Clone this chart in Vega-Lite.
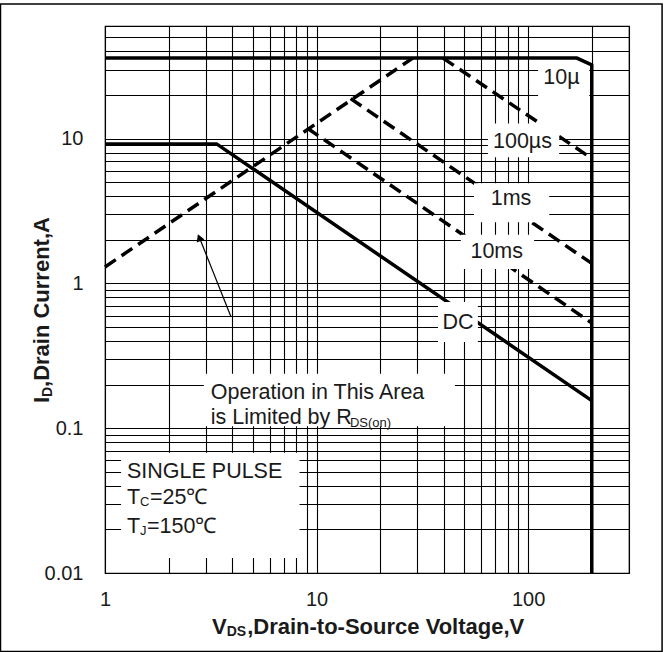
{
  "$schema": "https://vega.github.io/schema/vega-lite/v6.json",
  "width": 524,
  "height": 547,
  "autosize": "none",
  "padding": {"left": 105, "top": 26, "right": 35, "bottom": 79},
  "background": "white",
  "config": {
    "view": {"stroke": "#000", "strokeWidth": 1.2},
    "font": "Liberation Sans"
  },
  "datasets": {
    "curves": [
      {"series": "limit", "o": 1, "x": 1, "y": 36},
      {"series": "limit", "o": 2, "x": 170, "y": 36},
      {"series": "limit", "o": 3, "x": 200, "y": 32.3},
      {"series": "limit", "o": 4, "x": 200, "y": 0.01},
      {"series": "dc", "o": 1, "x": 1, "y": 9.2},
      {"series": "dc", "o": 2, "x": 3.37, "y": 9.2},
      {"series": "dc", "o": 3, "x": 200, "y": 0.155},
      {"series": "rds", "o": 1, "x": 1, "y": 1.3},
      {"series": "rds", "o": 2, "x": 28.5, "y": 36},
      {"series": "us10", "o": 1, "x": 39.6, "y": 36},
      {"series": "us10", "o": 2, "x": 200, "y": 7.3},
      {"series": "us100", "o": 1, "x": 14.5, "y": 18.9},
      {"series": "us100", "o": 2, "x": 200, "y": 1.375},
      {"series": "ms1", "o": 1, "x": 9.06, "y": 11.8},
      {"series": "ms1", "o": 2, "x": 200, "y": 0.533}
    ],
    "boxes": [
      {"name": "10u", "x": 111.5, "x2": 194.6, "y": 33.0, "y2": 12.75},
      {"name": "100us", "x": 64.6, "x2": 140.3, "y": 12.75, "y2": 7.43},
      {"name": "1ms", "x": 55.5, "x2": 125.8, "y": 4.93, "y2": 2.65},
      {"name": "10ms", "x": 48.1, "x2": 106.8, "y": 2.173, "y2": 1.257},
      {"name": "DC", "x": 37.5, "x2": 57.9, "y": 0.744, "y2": 0.3946},
      {"name": "op", "x": 2.933, "x2": 45.1, "y": 0.2375, "y2": 0.1032},
      {"name": "sp", "x": 1.191, "x2": 8.31, "y": 0.0678, "y2": 0.01269}
    ],
    "labels": [
      {"t": "10µ", "x": 143.9, "y": 26.1},
      {"t": "100µs", "x": 94.1, "y": 9.53},
      {"t": "1ms", "x": 83.1, "y": 3.81},
      {"t": "10ms", "x": 71.1, "y": 1.657},
      {"t": "DC", "x": 46.6, "y": 0.5305}
    ],
    "notes": [
      {"t": "Operation in This Area", "x": 3.163, "y": 0.1759},
      {"t": "is Limited by R", "x": 3.163, "y": 0.1177},
      {"t": "SINGLE PULSE", "x": 1.27, "y": 0.0501},
      {"t": "T", "x": 1.27, "y": 0.0328},
      {"t": "=25℃", "x": 1.632, "y": 0.0328},
      {"t": "T", "x": 1.27, "y": 0.0207},
      {"t": "=150℃", "x": 1.579, "y": 0.0207}
    ],
    "subs": [
      {"t": "DS(on)", "x": 14.39, "y": 0.1087},
      {"t": "C", "x": 1.464, "y": 0.0307},
      {"t": "J", "x": 1.464, "y": 0.01935}
    ],
    "xtitle": [
      {"t": "V", "x": 3.205, "y": 0.004258, "s": 22},
      {"t": "DS", "x": 3.76, "y": 0.003914, "s": 14},
      {"t": ",Drain-to-Source Voltage,V", "x": 4.7, "y": 0.004258, "s": 22}
    ],
    "ytitle": [
      {"t": "I", "x": 0.5059, "y": 0.1494, "s": 22},
      {"t": "D", "x": 0.5376, "y": 0.1643, "s": 14},
      {"t": ",Drain Current,A", "x": 0.5059, "y": 0.1927, "s": 22}
    ],
    "arrow": [
      {"x": 3.94, "y": 0.589, "x2": 2.812, "y2": 2.028}
    ],
    "head": [
      {"x": 2.79, "y": 2.07}
    ],
    "frame": [
      {"x": 0.3206, "x2": 430, "y": 85.2, "y2": 0.00287}
    ]
  },
  "encoding": {
    "x": {
      "field": "x",
      "type": "quantitative",
      "scale": {"type": "log", "domain": [1, 300], "nice": false},
      "axis": {
        "title": null,
        "values": [1, 2, 3, 4, 5, 6, 7, 8, 9, 10, 20, 30, 40, 50, 60, 70, 80, 90, 100, 200, 300],
        "labelExpr": "datum.value == 1 || datum.value == 10 || datum.value == 100 ? '' + datum.value : ''",
        "labelOverlap": false,
        "labelFlush": false,
        "labelFont": "Liberation Sans",
        "labelFontSize": 20,
        "labelColor": "#1a1a1a",
        "labelPadding": 16,
        "ticks": false,
        "domain": false,
        "grid": true,
        "gridColor": "#000",
        "gridOpacity": 1,
        "gridWidth": 1.1
      }
    },
    "y": {
      "field": "y",
      "type": "quantitative",
      "scale": {"type": "log", "domain": [0.01, 60], "nice": false},
      "axis": {
        "title": null,
        "values": [0.01, 0.02, 0.03, 0.04, 0.05, 0.06, 0.07, 0.08, 0.09, 0.1, 0.2, 0.3, 0.4, 0.5, 0.6, 0.7, 0.8, 0.9, 1, 2, 3, 4, 5, 6, 7, 8, 9, 10, 20, 30, 40, 50],
        "labelExpr": "datum.value == 0.01 || datum.value == 0.1 || datum.value == 1 || datum.value == 10 ? '' + datum.value : ''",
        "labelOverlap": false,
        "labelFlush": false,
        "labelFont": "Liberation Sans",
        "labelFontSize": 20,
        "labelColor": "#1a1a1a",
        "labelPadding": 22,
        "ticks": false,
        "domain": false,
        "grid": true,
        "gridColor": "#000",
        "gridOpacity": 1,
        "gridWidth": 1.1
      }
    }
  },
  "layer": [
    {
      "data": {"name": "frame"},
      "mark": {"type": "rect", "filled": false, "stroke": "#000", "strokeWidth": 1.5, "clip": false},
      "encoding": {"x2": {"field": "x2"}, "y2": {"field": "y2"}}
    },
    {
      "data": {"name": "curves"},
      "transform": [{"filter": "datum.series != 'limit' && datum.series != 'dc'"}],
      "mark": {"type": "line", "color": "#000", "strokeWidth": 3.5, "strokeDash": [13, 7], "strokeCap": "butt"},
      "encoding": {"detail": {"field": "series"}, "order": {"field": "o", "type": "quantitative"}}
    },
    {
      "data": {"name": "curves"},
      "transform": [{"filter": "datum.series == 'dc'"}],
      "mark": {"type": "line", "color": "#000", "strokeWidth": 3.5},
      "encoding": {"detail": {"field": "series"}, "order": {"field": "o", "type": "quantitative"}}
    },
    {
      "data": {"name": "boxes"},
      "mark": {"type": "rect", "fill": "white", "stroke": null},
      "encoding": {"x2": {"field": "x2"}, "y2": {"field": "y2"}}
    },
    {
      "data": {"name": "curves"},
      "transform": [{"filter": "datum.series == 'limit'"}],
      "mark": {"type": "line", "color": "#000", "strokeWidth": 3.5},
      "encoding": {"detail": {"field": "series"}, "order": {"field": "o", "type": "quantitative"}}
    },
    {
      "data": {"name": "arrow"},
      "mark": {"type": "rule", "color": "#000", "strokeWidth": 1.2},
      "encoding": {"x2": {"field": "x2"}, "y2": {"field": "y2"}}
    },
    {
      "data": {"name": "head"},
      "mark": {"type": "point", "shape": "triangle-up", "filled": true, "color": "#000", "size": 70, "angle": -22, "opacity": 1}
    },
    {
      "data": {"name": "labels"},
      "mark": {"type": "text", "font": "Liberation Sans", "fontSize": 21.5, "color": "#1a1a1a", "align": "center", "baseline": "middle"},
      "encoding": {"text": {"field": "t"}}
    },
    {
      "data": {"name": "notes"},
      "mark": {"type": "text", "font": "Liberation Sans", "fontSize": 21.5, "color": "#1a1a1a", "align": "left", "baseline": "middle"},
      "encoding": {"text": {"field": "t"}}
    },
    {
      "data": {"name": "subs"},
      "mark": {"type": "text", "font": "Liberation Sans", "fontSize": 13, "color": "#1a1a1a", "align": "left", "baseline": "middle"},
      "encoding": {"text": {"field": "t"}}
    },
    {
      "data": {"name": "xtitle"},
      "mark": {"type": "text", "font": "Liberation Sans", "fontWeight": "bold", "color": "#1a1a1a", "align": "left", "baseline": "middle", "clip": false},
      "encoding": {"text": {"field": "t"}, "size": {"field": "s", "type": "quantitative", "scale": null}}
    },
    {
      "data": {"name": "ytitle"},
      "mark": {"type": "text", "font": "Liberation Sans", "fontWeight": "bold", "color": "#1a1a1a", "align": "left", "baseline": "middle", "angle": 270, "clip": false},
      "encoding": {"text": {"field": "t"}, "size": {"field": "s", "type": "quantitative", "scale": null}}
    }
  ]
}
